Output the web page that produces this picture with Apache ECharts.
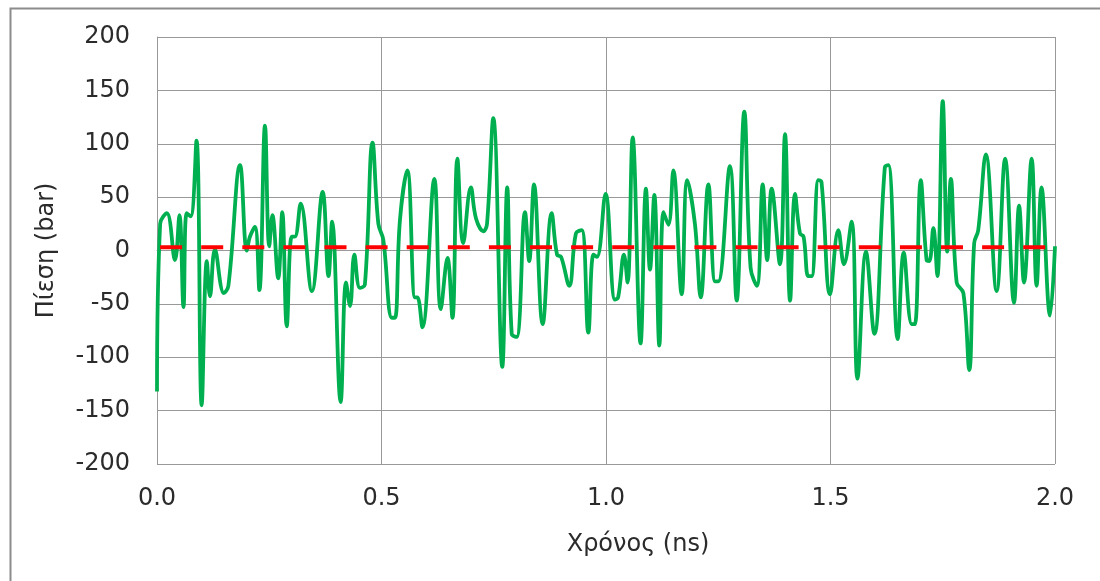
<!DOCTYPE html>
<html>
<head>
<meta charset="utf-8">
<script src="https://cdn.jsdelivr.net/npm/echarts@6/dist/echarts.min.js"></script>
<style>
html,body{margin:0;padding:0;background:#fff;}
#chart{width:1100px;height:581px;}
</style>
</head>
<body>
<div id="chart"></div>
<script>
// Time (ns)
const times = [0,0.007,0.022,0.04,0.05,0.059,0.066,0.075,0.088,0.0995,0.111,0.118,0.129,0.149,0.159,0.185,0.2,0.207,0.218,0.228,0.2405,0.25,0.257,0.27,0.279,0.289,0.30,0.307,0.32,0.345,0.369,0.382,0.39,0.409,0.421,0.43,0.4395,0.452,0.463,0.48,0.493,0.504,0.523,0.53,0.541,0.5575,0.5746,0.58,0.591,0.6177,0.632,0.647,0.658,0.669,0.682,0.699,0.7105,0.727,0.735,0.749,0.769,0.780,0.79,0.801,0.8196,0.829,0.8396,0.859,0.879,0.891,0.9,0.918,0.933,0.946,0.9606,0.972,0.98,0.999,1.02,1.027,1.04,1.048,1.0594,1.077,1.089,1.098,1.1076,1.1188,1.128,1.139,1.15,1.1686,1.181,1.198,1.211,1.228,1.243,1.25,1.276,1.291,1.308,1.322,1.336,1.349,1.359,1.369,1.3875,1.3987,1.41,1.421,1.432,1.44,1.4506,1.458,1.473,1.480,1.499,1.5174,1.53,1.547,1.56,1.579,1.5976,1.621,1.629,1.6496,1.663,1.681,1.688,1.701,1.714,1.72,1.729,1.738,1.75,1.76,1.768,1.781,1.796,1.809,1.82,1.829,1.846,1.870,1.889,1.9087,1.92,1.931,1.948,1.959,1.970,1.989,2.0];
// Pressure (bar)
const pressure = [-132,25,35,-9,33,-53,35,32,103,-145,-10,-43,1,-40,-33,80,0,13,22,-37,117,4,33,-26,36,-71,13,13,44,-38,55,-24,27,-142,-30,-52,-4,-35,-32,101,25,10,-63,-63,28,75,-44,-44,-72,67,-55,-7,-63,86,7,59,30,18,25,124,-109,59,-78,-81,36,-10,62,-69,35,-4,-6,-33,16,19,-77,-4,-6,53,-46,-44,-4,-30,106,-87,58,-18,52,-89,36,24,75,-41,66,25,-44,62,-29,-29,79,-47,130,-16,-33,62,-9,58,-13,109,-47,53,16,13,-24,-24,66,64,-41,19,-13,27,-120,-1,-78,78,80,-83,-2,-69,-69,66,-9,-10,21,-24,140,-1,67,-30,-40,-112,7,19,90,-38,86,-49,42,-30,86,-33,59,-61,4];
// Reference (mean) level
const refTimes = [0, 2.0];
const refLevel = [3, 3];
// Axis ticks
const xTicks = [0.0, 0.5, 1.0, 1.5, 2.0];
const yTicks = [-200, -150, -100, -50, 0, 50, 100, 150, 200];

const greenData = times.map((t, i) => [t, pressure[i]]);
const redData = refTimes.map((t, i) => [t, refLevel[i]]);

const font = 'DejaVu Sans';
const txt = '#2b2b2b';
const chart = echarts.init(document.getElementById('chart'), null, {renderer: 'canvas'});
chart.setOption({
  animation: false,
  backgroundColor: '#fff',
  graphic: [{
    type: 'rect', left: 8, top: 6, silent: true, z: -10,
    shape: {width: 1200, height: 700},
    style: {fill: 'none', stroke: '#8c8c8c', lineWidth: 2}
  }],
  grid: {left: 157, right: 45, top: 37, bottom: 117, containLabel: false},
  xAxis: {
    type: 'value',
    min: xTicks[0], max: xTicks[xTicks.length - 1], interval: 0.5,
    name: 'Χρόνος (ns)',
    nameLocation: 'middle',
    nameGap: 69,
    nameTextStyle: {fontFamily: font, fontSize: 24, color: txt, padding: [0, 0, 0, 64]},
    axisLine: {show: true, lineStyle: {color: '#999', width: 1}},
    axisTick: {show: false},
    axisLabel: {fontFamily: font, fontSize: 24, color: txt, margin: 23,
      formatter: v => v.toFixed(1)},
    splitLine: {show: true, lineStyle: {color: '#999', width: 1}}
  },
  yAxis: {
    type: 'value',
    min: yTicks[0], max: yTicks[yTicks.length - 1], interval: 50,
    name: 'Πίεση (bar)',
    nameLocation: 'middle',
    nameGap: 98,
    nameTextStyle: {fontFamily: font, fontSize: 24, color: txt},
    axisLine: {show: true, lineStyle: {color: '#999', width: 1}},
    axisTick: {show: false},
    axisLabel: {fontFamily: font, fontSize: 24, color: txt, margin: 27},
    splitLine: {show: true, lineStyle: {color: '#999', width: 1}}
  },
  series: [
    {
      type: 'line', data: greenData, smooth: 0.4, symbol: 'none',
      lineStyle: {color: '#00B050', width: 3.8}, z: 3
    },
    {
      type: 'line', data: redData, symbol: 'none',
      lineStyle: {color: '#FF0000', width: 4, type: [22, 19.1], dashOffset: 38}, z: 4
    }
  ]
});
</script>
</body>
</html>
